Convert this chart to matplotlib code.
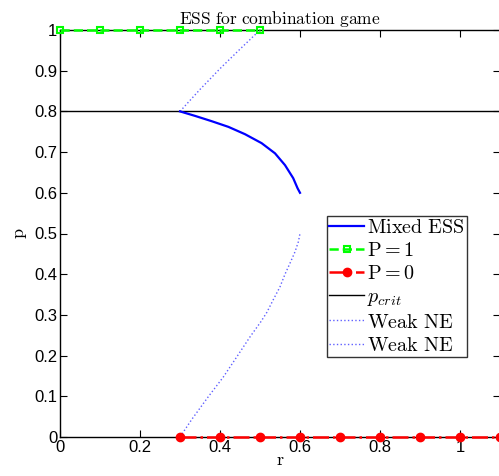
import matplotlib
matplotlib.use("Agg")
import matplotlib.pyplot as plt

plt.rcParams.update({
    "font.family": "Liberation Sans",
    "mathtext.fontset": "cm",
    "xtick.direction": "in",
    "ytick.direction": "in",
    "xtick.top": True,
    "ytick.right": True,
})

# data
r_ess = [0.3, 0.3375, 0.379, 0.421, 0.4625, 0.504, 0.5375, 0.5625, 0.583, 0.594, 0.6]
p_ess = [0.8, 0.789, 0.776, 0.762, 0.744, 0.722, 0.697, 0.668, 0.636, 0.611, 0.6]

r_one = [0.0, 0.1, 0.2, 0.3, 0.4, 0.5]
p_one = [1, 1, 1, 1, 1, 1]

r_zero = [0.3, 0.4, 0.5, 0.6, 0.7, 0.8, 0.9, 1.0, 1.1]
p_zero = [0, 0, 0, 0, 0, 0, 0, 0, 0]

p_crit = 0.8

r_weak_hi = [0.3, 0.35, 0.4, 0.45, 0.5]
p_weak_hi = [0.8, 0.854, 0.905, 0.953, 1.0]

r_weak_lo = [0.3, 0.33, 0.37, 0.408, 0.44, 0.475, 0.502, 0.517, 0.533,
             0.55, 0.5625, 0.575, 0.5875, 0.596, 0.6]
p_weak_lo = [0.0, 0.044, 0.098, 0.147, 0.194, 0.246, 0.283, 0.306, 0.337,
             0.369, 0.400, 0.427, 0.455, 0.480, 0.5]

fig = plt.figure(figsize=(4.99, 4.76), dpi=100)
ax = fig.add_axes([60 / 499, 1 - 437 / 476, 440 / 499, 407 / 476])

ax.plot(r_ess, p_ess, color="#0000ff", lw=1.6, label=r"$\mathrm{Mixed\ ESS}$", zorder=3)
ax.plot(r_one, p_one, color="#00ff00", ls="--", lw=1.8, marker="s", ms=5,
        mfc="none", mec="#00ff00", mew=1.5, label=r"$\mathrm{P}=1$",
        clip_on=False, zorder=4)
ax.plot(r_zero, p_zero, color="#ff0000", ls="-.", lw=1.8, marker="o", ms=6,
        mfc="#ff0000", mec="#ff0000", label=r"$\mathrm{P}=0$",
        clip_on=False, zorder=4)
ax.axhline(p_crit, color="black", lw=1.0, label=r"$p_{crit}$", zorder=2)
ax.plot(r_weak_hi, p_weak_hi, color="#6060ff", ls=":", lw=1.0, label=r"$\mathrm{Weak\ NE}$")
ax.plot(r_weak_lo, p_weak_lo, color="#6060ff", ls=":", lw=1.0, label=r"$\mathrm{Weak\ NE}$")

ax.set_xlim(0, 1.1)
ax.set_ylim(0, 1)
ax.set_xticks([0, 0.2, 0.4, 0.6, 0.8, 1.0])
ax.set_xticklabels(["0", "0.2", "0.4", "0.6", "0.8", "1"])
ax.set_yticks([i / 10 for i in range(11)])
ax.set_yticklabels(["0"] + [f"{i / 10:.1f}" for i in range(1, 10)] + ["1"])
ax.tick_params(labelsize=12, length=5, width=0.8, pad=2)
for s in ax.spines.values():
    s.set_linewidth(1.0)

ax.set_title(r"$\mathrm{ESS\ for\ combination\ game}$", fontsize=12.5, pad=4)
ax.set_xlabel(r"$\mathrm{r}$", fontsize=13, labelpad=-2)
ax.set_ylabel(r"$\mathrm{p}$", fontsize=13, labelpad=4)

leg = ax.legend(loc="upper left", bbox_to_anchor=(267 / 440, 221 / 407), fontsize=14.5,
                frameon=True, fancybox=False, edgecolor="black",
                handlelength=1.7, handletextpad=0.15, borderpad=0.12,
                labelspacing=0.2, borderaxespad=0)
leg.get_frame().set_linewidth(1.0)

fig.savefig("out.png", dpi=100)
